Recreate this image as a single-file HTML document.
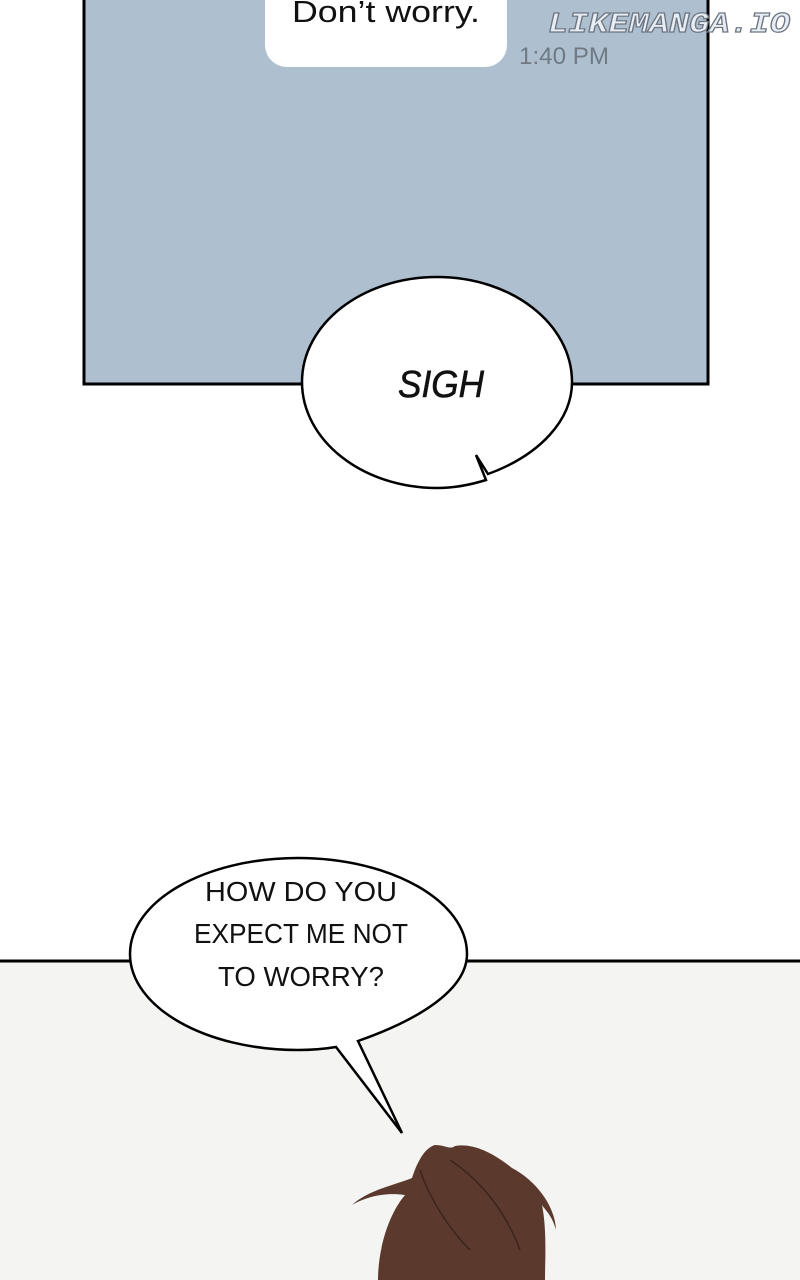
<!DOCTYPE html>
<html><head><style>
html,body{margin:0;padding:0;}
body{width:800px;height:1280px;position:relative;overflow:hidden;background:#fff;font-family:"Liberation Sans",sans-serif;}
</style></head><body>
<svg width="800" height="1280" viewBox="0 0 800 1280" style="position:absolute;left:0;top:0">
<rect x="0" y="961" width="800" height="319" fill="#f4f4f2"/>
<line x1="0" y1="961" x2="800" y2="961" stroke="#000" stroke-width="3"/>
<rect x="84" y="-5" width="624" height="389" fill="#aebfcf" stroke="#000" stroke-width="3"/>
<rect x="265" y="-30" width="242" height="97" rx="22" fill="#fff"/>
<text x="292" y="22" font-size="31" textLength="188" lengthAdjust="spacingAndGlyphs" fill="#111" font-family="Liberation Sans, sans-serif">Don’t worry.</text>
<text x="519" y="64" font-size="24" textLength="90" lengthAdjust="spacingAndGlyphs" fill="#6f7a85" font-family="Liberation Sans, sans-serif">1:40 PM</text>
<text x="548" y="32" font-size="29" textLength="242" lengthAdjust="spacingAndGlyphs" font-style="italic" font-weight="bold" fill="#e8edf3" stroke="#6d7682" stroke-width="1.2" font-family="Liberation Mono, monospace">LIKEMANGA.IO</text>
<path d="M488,474 C540,455 572,420 572,382 C572,324 512,277 437,277 C362,277 302,324 302,382 C302,440 362,488 437,488 C455,488 470,485 486,480 L476,455 Z" fill="#fff" stroke="#000" stroke-width="2.5" stroke-linejoin="miter"/>
<text x="398" y="397" font-size="38" textLength="86" lengthAdjust="spacingAndGlyphs" font-style="italic" fill="#111" stroke="#111" stroke-width="0.6" font-family="Liberation Sans, sans-serif">SIGH</text>
<path d="M358,1041 C418,1020 467,990 467,954 C467,901 391,858 298,858 C205,858 130,901 130,954 C130,1007 205,1050 298,1050 C312,1050 324,1049 336,1047 L402,1133 Z" fill="#fff" stroke="#000" stroke-width="2.5"/>
<g font-size="28" fill="#111" font-family="Liberation Sans, sans-serif">
<text x="205" y="901" textLength="192" lengthAdjust="spacingAndGlyphs">HOW DO YOU</text>
<text x="194" y="943" textLength="214" lengthAdjust="spacingAndGlyphs">EXPECT ME NOT</text>
<text x="218" y="986" textLength="166" lengthAdjust="spacingAndGlyphs">TO WORRY?</text>
</g>
<path d="M378,1280 C378,1250 388,1215 405,1195 C385,1192 365,1197 352,1205 C368,1190 395,1185 412,1178 C418,1160 425,1148 435,1145 C445,1145 450,1150 455,1146 C470,1143 490,1150 512,1168 C535,1180 555,1205 556,1230 C552,1215 545,1210 542,1205 C547,1230 545,1260 545,1280 Z" fill="#5b3a2d"/>
<path d="M420,1170 C430,1200 450,1230 470,1250 M450,1160 C480,1180 505,1210 520,1250" stroke="#3d2419" stroke-width="1.5" fill="none"/>
</svg>
</body></html>
